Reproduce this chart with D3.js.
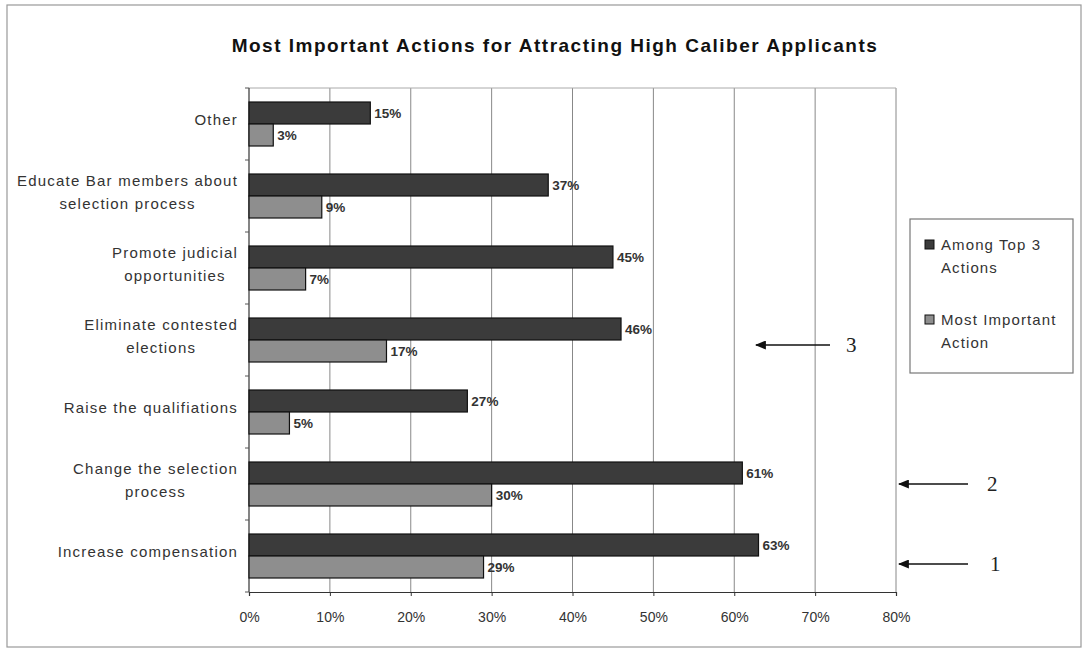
<!DOCTYPE html>
<html>
<head>
<meta charset="utf-8">
<script src="https://cdn.jsdelivr.net/npm/d3@7"></script>
<style>
  body { margin: 0; background: #fff; }
  svg { display: block; }
  text { font-family: "Liberation Sans", Arial, sans-serif; fill: #222; }
</style>
</head>
<body>
<svg id="chart" width="1083" height="649"></svg>
<script>
// categories, top to bottom
var categories = [
  ['Other'],
  ['Educate Bar members about', 'selection process'],
  ['Promote judicial', 'opportunities'],
  ['Eliminate contested', 'elections'],
  ['Raise the qualifiations'],
  ['Change the selection', 'process'],
  ['Increase compensation']
];

// series values (percent)
var amongTop3 = [15, 37, 45, 46, 27, 61, 63];
var mostImportant = [3, 9, 7, 17, 5, 30, 29];

var seriesNames = [['Among Top 3', 'Actions'], ['Most Important', 'Action']];
var xTicks = [0, 10, 20, 30, 40, 50, 60, 70, 80];

// callout arrows: category index and number
var callouts = [
  {cat: 3, label: '3'},
  {cat: 5, label: '2'},
  {cat: 6, label: '1'}
];
// where each arrow sits (x from, x to, vertical nudge)
var calloutPos = [
  {x1: 756, x2: 830, dy: 5, lx: 846},
  {x1: 899, x2: 968, dy: 0, lx: 987},
  {x1: 899, x2: 968, dy: 8, lx: 990}
];

var svg = d3.select('#chart');

// outer frame
svg.append('rect')
  .attr('x', 7).attr('y', 5)
  .attr('width', 1074).attr('height', 642)
  .attr('fill', 'none').attr('stroke', '#999').attr('stroke-width', 1.2);

var pL = 249, pR = 896, pT = 88, pB = 592;

var x = d3.scaleLinear().domain([0, 80]).range([pL, pR]);
var y = d3.scaleBand().domain(d3.range(categories.length)).range([pT, pB]);
var barH = 22;

// title
svg.append('text')
  .attr('x', 555).attr('y', 52)
  .attr('text-anchor', 'middle')
  .style('font-size', '19px').style('font-weight', 'bold')
  .style('letter-spacing', '1.5px')
  .style('fill', '#111')
  .text('Most Important Actions for Attracting High Caliber Applicants');

// gridlines
svg.selectAll('.grid').data(xTicks.slice(1)).enter()
  .append('line')
  .attr('x1', function(d) { return x(d); })
  .attr('x2', function(d) { return x(d); })
  .attr('y1', pT).attr('y2', pB)
  .attr('stroke', '#888').attr('stroke-width', 1);

// plot top border
svg.append('line')
  .attr('x1', pL).attr('x2', pR).attr('y1', pT).attr('y2', pT)
  .attr('stroke', '#aaa');

// x axis
var xAxis = d3.axisBottom(x).tickValues(xTicks)
  .tickFormat(function(d) { return d + '%'; })
  .tickSize(4).tickPadding(16);
var gx = svg.append('g').attr('transform', 'translate(0,' + pB + ')').call(xAxis);
gx.select('.domain').attr('stroke', '#333').attr('stroke-width', 1.2);
gx.selectAll('.tick line').attr('stroke', '#333');
gx.selectAll('text').style('font-size', '14px').style('fill', '#333')
  .style('font-family', '"Liberation Sans", Arial, sans-serif');

// y axis line + ticks between categories
svg.append('line')
  .attr('x1', pL).attr('x2', pL).attr('y1', pT).attr('y2', pB)
  .attr('stroke', '#333').attr('stroke-width', 1.2);
svg.selectAll('.ytick').data(d3.range(categories.length + 1)).enter()
  .append('line')
  .attr('x1', pL - 4).attr('x2', pL)
  .attr('y1', function(d) { return pT + d * y.step(); })
  .attr('y2', function(d) { return pT + d * y.step(); })
  .attr('stroke', '#555');

// bars
var series = [
  {values: amongTop3, fill: '#3b3b3b', offset: -barH},
  {values: mostImportant, fill: '#8e8e8e', offset: 0}
];

series.forEach(function(s) {
  var g = svg.append('g');
  g.selectAll('rect').data(s.values).enter()
    .append('rect')
    .attr('x', x(0))
    .attr('y', function(d, i) { return y(i) + y.bandwidth() / 2 + s.offset; })
    .attr('width', function(d) { return x(d) - x(0); })
    .attr('height', barH)
    .attr('fill', s.fill)
    .attr('stroke', '#111').attr('stroke-width', 1.2);
  g.selectAll('text').data(s.values).enter()
    .append('text')
    .attr('x', function(d) { return x(d) + 4; })
    .attr('y', function(d, i) { return y(i) + y.bandwidth() / 2 + s.offset + barH / 2 + 5; })
    .style('font-size', '13.5px').style('font-weight', 'bold').style('fill', '#333')
    .text(function(d) { return d + '%'; });
});

// category labels, lines centred on each other, block right-aligned
svg.selectAll('.cat').data(categories).enter()
  .append('text')
  .attr('class', 'cat')
  .attr('text-anchor', 'middle')
  .style('font-size', '15px').style('fill', '#333')
  .style('letter-spacing', '1.2px')
  .each(function(lines, i) {
    var t = d3.select(this);
    var lh = 23;
    var cy = y(i) + y.bandwidth() / 2 + 1 - (lines.length - 1) * lh / 2;
    lines.forEach(function(l, j) {
      t.append('tspan').attr('y', cy + j * lh).text(l);
    });
    var maxW = 0;
    t.selectAll('tspan').each(function() { maxW = Math.max(maxW, this.getComputedTextLength()); });
    t.selectAll('tspan').attr('x', 238 - maxW / 2);
  });

// legend
var lg = svg.append('g');
lg.append('rect')
  .attr('x', 910).attr('y', 219).attr('width', 163).attr('height', 154)
  .attr('fill', '#fff').attr('stroke', '#777').attr('stroke-width', 1.2);
seriesNames.forEach(function(name, i) {
  var yy = 250 + i * 75;
  lg.append('rect')
    .attr('x', 925).attr('y', yy - 10).attr('width', 9).attr('height', 9)
    .attr('fill', series[i].fill).attr('stroke', '#111');
  name.forEach(function(l, j) {
    lg.append('text')
      .attr('x', 941).attr('y', yy + j * 23)
      .style('font-size', '15px').style('fill', '#333')
      .style('letter-spacing', '1.1px')
      .text(l);
  });
});

// callout arrows
svg.append('defs').append('marker')
  .attr('id', 'ah').attr('viewBox', '0 0 10 10')
  .attr('refX', 9).attr('refY', 5)
  .attr('markerWidth', 11).attr('markerHeight', 9)
  .attr('markerUnits', 'userSpaceOnUse')
  .attr('orient', 'auto')
  .attr('preserveAspectRatio', 'none')
  .append('path').attr('d', 'M10,5 L0,0 L0,10 Z').attr('fill', '#111');

callouts.forEach(function(c, k) {
  var p = calloutPos[k];
  var cy = y(c.cat) + y.bandwidth() / 2 + p.dy;
  svg.append('line')
    .attr('x1', p.x2).attr('x2', p.x1).attr('y1', cy).attr('y2', cy)
    .attr('stroke', '#111').attr('stroke-width', 1.3)
    .attr('marker-end', 'url(#ah)');
  svg.append('text')
    .attr('x', p.lx).attr('y', cy + 7)
    .style('font-family', '"Liberation Serif", "DejaVu Serif", serif')
    .style('font-size', '21px').style('fill', '#222')
    .text(c.label);
});
</script>
</body>
</html>
